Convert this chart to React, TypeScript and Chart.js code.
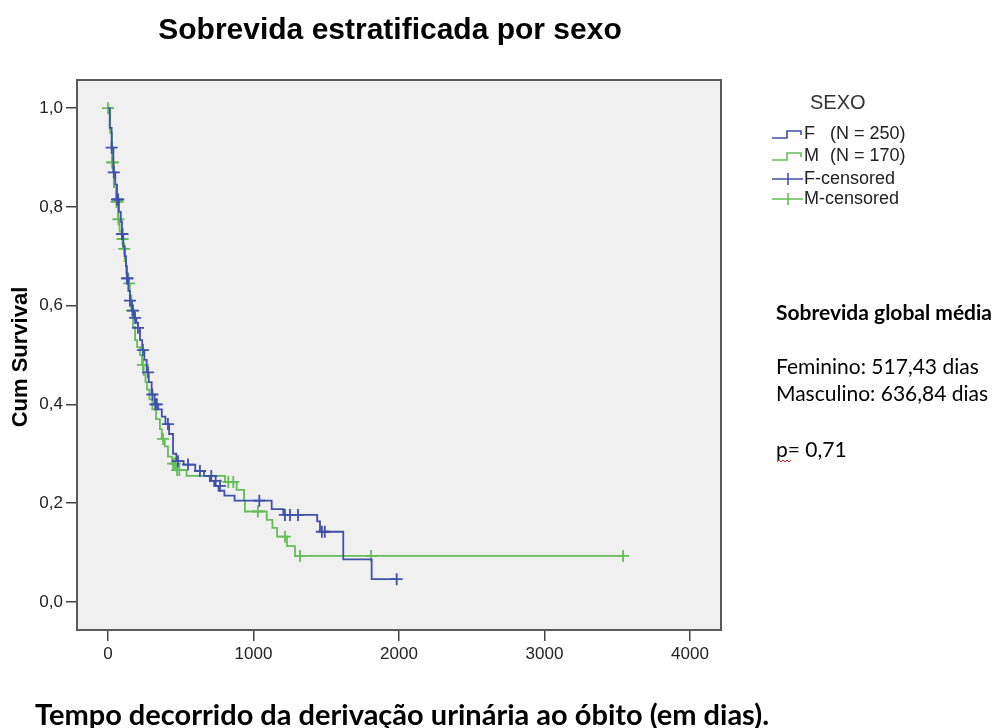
import React, { useEffect, useRef } from 'react';
import { Chart, registerables } from 'chart.js';

Chart.register(...registerables);

// Kaplan-Meier step data (time in days, cumulative survival)
const F_TIME = [0, 12, 25, 37, 50, 62, 75, 88, 96, 105, 115, 124, 130, 140, 151, 165, 180, 195, 206, 220, 235, 250, 266, 280, 300, 320, 345, 370, 395, 420, 447, 470, 520, 600, 660, 700, 730, 760, 800, 870, 1125, 1205, 1438, 1457, 1617, 1812, 1984];
const F_SURV = [1.0, 0.96, 0.92, 0.87, 0.845, 0.815, 0.79, 0.77, 0.745, 0.72, 0.70, 0.68, 0.655, 0.63, 0.61, 0.59, 0.575, 0.565, 0.555, 0.53, 0.51, 0.49, 0.465, 0.445, 0.42, 0.40, 0.39, 0.375, 0.36, 0.34, 0.30, 0.285, 0.278, 0.265, 0.255, 0.245, 0.235, 0.225, 0.215, 0.205, 0.188, 0.176, 0.163, 0.142, 0.086, 0.046, 0.046];
const F_CENS_TIME = [25, 40, 62, 70, 96, 100, 130, 135, 151, 172, 186, 206, 240, 275, 305, 325, 336, 412, 481, 550, 632, 710, 740, 770, 1040, 1216, 1251, 1306, 1470, 1490, 1984];
const F_CENS_SURV = [0.92, 0.87, 0.815, 0.815, 0.745, 0.745, 0.655, 0.655, 0.61, 0.59, 0.575, 0.555, 0.51, 0.465, 0.42, 0.40, 0.40, 0.36, 0.285, 0.278, 0.265, 0.255, 0.245, 0.235, 0.205, 0.176, 0.176, 0.176, 0.142, 0.142, 0.046];

const M_TIME = [0, 15, 28, 40, 55, 69, 80, 95, 103, 115, 125, 140, 150, 160, 172, 186, 200, 220, 234, 245, 258, 268, 285, 305, 330, 357, 370, 390, 412, 440, 470, 540, 804, 884, 935, 941, 1091, 1130, 1162, 1230, 1285, 3540];
const M_SURV = [1.0, 0.95, 0.89, 0.84, 0.81, 0.775, 0.75, 0.735, 0.715, 0.69, 0.665, 0.645, 0.62, 0.59, 0.557, 0.53, 0.516, 0.50, 0.48, 0.46, 0.445, 0.43, 0.41, 0.39, 0.37, 0.35, 0.33, 0.315, 0.294, 0.28, 0.267, 0.255, 0.243, 0.227, 0.205, 0.183, 0.166, 0.15, 0.132, 0.113, 0.093, 0.093];
const M_CENS_TIME = [0, 28, 34, 58, 66, 72, 100, 112, 145, 165, 240, 378, 447, 460, 475, 490, 827, 861, 1030, 1216, 1320, 1808, 3540];
const M_CENS_SURV = [1.0, 0.89, 0.89, 0.81, 0.81, 0.775, 0.735, 0.715, 0.645, 0.59, 0.48, 0.33, 0.28, 0.28, 0.267, 0.267, 0.243, 0.243, 0.183, 0.132, 0.093, 0.093, 0.093];

const X_TICKS = [0, 1000, 2000, 3000, 4000];
const Y_TICKS = [0, 0.2, 0.4, 0.6, 0.8, 1.0];

const LEGEND_TITLE = 'SEXO';
const LEGEND_ROWS = [
  { kind: 'step', color: 'blue', label: 'F', n: '(N = 250)' },
  { kind: 'step', color: 'green', label: 'M', n: '(N = 170)' },
  { kind: 'cens', color: 'blue', label: 'F-censored', n: '' },
  { kind: 'cens', color: 'green', label: 'M-censored', n: '' },
];

const BLUE = '#3f51a9';
const GREEN = '#64bd57';

const pts = (t: number[], s: number[]) => t.map((x, i) => ({ x, y: s[i] }));

const SANS = '"Liberation Sans", Arial, sans-serif';
const NARROW = '"Liberation Sans Narrow", "Liberation Sans", Arial, sans-serif';
const CAL = 'Lato, "Open Sans", sans-serif';

const decor = {
  id: 'decor',
  beforeDraw(chart: any) {
    const { ctx, chartArea: a } = chart;
    ctx.save();
    ctx.fillStyle = '#f0f0f0';
    ctx.fillRect(a.left, a.top, a.right - a.left, a.bottom - a.top);
    ctx.restore();
  },
  afterDraw(chart: any) {
    const { ctx, chartArea: a } = chart;
    ctx.save();
    // frame
    ctx.strokeStyle = '#5a5a5a';
    ctx.lineWidth = 2;
    ctx.strokeRect(a.left, a.top, a.right - a.left, a.bottom - a.top);

    // title
    ctx.fillStyle = '#000';
    ctx.textBaseline = 'middle';
    ctx.textAlign = 'center';
    ctx.font = `bold 30px ${SANS}`;
    ctx.fillText('Sobrevida estratificada por sexo', 390, 31);

    // y-axis title
    ctx.save();
    ctx.translate(21, 357);
    ctx.rotate(-Math.PI / 2);
    ctx.font = `bold 22px ${SANS}`;
    ctx.fillText('Cum Survival', 0, 0);
    ctx.restore();

    // legend
    ctx.textAlign = 'left';
    ctx.fillStyle = '#333';
    ctx.font = `20px ${NARROW}`;
    ctx.fillText(LEGEND_TITLE, 810, 103);
    const rowY = [134, 156, 179, 199];
    LEGEND_ROWS.forEach((r, i) => {
      const y = rowY[i];
      const col = r.color === 'blue' ? BLUE : GREEN;
      ctx.strokeStyle = col;
      ctx.lineWidth = 1.6;
      ctx.beginPath();
      if (r.kind === 'step') {
        ctx.moveTo(772, y + 4);
        ctx.lineTo(787, y + 4);
        ctx.lineTo(787, y - 3);
        ctx.lineTo(801, y - 3);
        ctx.lineTo(801, y + 1);
      } else {
        ctx.moveTo(772, y);
        ctx.lineTo(803, y);
        ctx.moveTo(788, y - 6);
        ctx.lineTo(788, y + 6);
      }
      ctx.stroke();
      ctx.fillStyle = '#222';
      ctx.font = `18px ${SANS}`;
      ctx.fillText(r.label, 804, y);
      if (r.n) ctx.fillText(r.n, 830, y);
    });

    // annotations
    ctx.fillStyle = '#000';
    ctx.font = `bold 21px ${CAL}`;
    ctx.fillText('Sobrevida global média', 776, 313);
    ctx.font = `21px ${CAL}`;
    ctx.fillText('Feminino: 517,43 dias', 776, 367);
    ctx.fillText('Masculino: 636,84 dias', 776, 394);
    ctx.fillText('p= 0,71', 776, 450);
    // spell-check squiggle under "p"
    ctx.strokeStyle = '#d22';
    ctx.lineWidth = 1;
    ctx.beginPath();
    for (let i = 0; i <= 7; i++) {
      const x = 777 + i * 2;
      const y = i % 2 === 0 ? 462 : 460;
      if (i === 0) ctx.moveTo(x, y); else ctx.lineTo(x, y);
    }
    ctx.stroke();

    // bottom caption
    ctx.fillStyle = '#000';
    ctx.font = `bold 29px ${CAL}`;
    ctx.fillText('Tempo decorrido da derivação urinária ao óbito (em dias).', 35, 716);
    ctx.restore();
  },
};

export default function App() {
  const ref = useRef<HTMLCanvasElement | null>(null);
  useEffect(() => {
    if (!ref.current) return;
    const lineDs = (label: string, data: any, color: string) => ({
      type: 'line',
      label,
      data,
      borderColor: color,
      backgroundColor: color,
      borderWidth: 1.8,
      stepped: true,
      pointRadius: 0,
      fill: false,
    });
    const censDs = (label: string, data: any, color: string) => ({
      type: 'line',
      label,
      data,
      showLine: false,
      borderColor: color,
      backgroundColor: color,
      pointStyle: 'cross',
      pointRadius: 6,
      pointBorderWidth: 1.8,
      pointHoverRadius: 6,
    });
    const chart = new Chart(ref.current, {
      type: 'line',
      data: {
        datasets: [
          censDs('F-censored', pts(F_CENS_TIME, F_CENS_SURV), BLUE),
          lineDs('F', pts(F_TIME, F_SURV), BLUE),
          censDs('M-censored', pts(M_CENS_TIME, M_CENS_SURV), GREEN),
          lineDs('M', pts(M_TIME, M_SURV), GREEN),
        ] as any,
      },
      options: {
        animation: false,
        responsive: false,
        devicePixelRatio: 1,
        layout: { padding: { top: 80, right: 279, left: 0, bottom: 0 } },
        plugins: { legend: { display: false }, tooltip: { enabled: false }, title: { display: false } },
        scales: {
          x: {
            type: 'linear',
            min: -213,
            max: 4213,
            border: { display: false },
            grid: { drawOnChartArea: false, drawTicks: true, tickLength: 11, tickColor: '#444', lineWidth: 1.5 },
            ticks: { color: '#222', font: { family: NARROW, size: 17 }, padding: 3, maxRotation: 0, callback: (v: any) => String(v) },
            afterBuildTicks: (s: any) => { s.ticks = X_TICKS.map((v) => ({ value: v })); },
            afterFit: (s: any) => { s.height = 98; },
          },
          y: {
            type: 'linear',
            min: -0.057,
            max: 1.057,
            border: { display: false },
            grid: { drawOnChartArea: false, drawTicks: true, tickLength: 11, tickColor: '#444', lineWidth: 1.5 },
            ticks: { color: '#222', font: { family: NARROW, size: 17 }, padding: 3, callback: (v: any) => Number(v).toFixed(1).replace('.', ',') },
            afterBuildTicks: (s: any) => { s.ticks = Y_TICKS.map((v) => ({ value: v })); },
            afterFit: (s: any) => { s.width = 77; },
          },
        },
      },
      plugins: [decor],
    });
    return () => chart.destroy();
  }, []);
  return (
    <div style={{ position: 'absolute', left: 0, top: 0, width: 1000, height: 728, background: '#fff' }}>
      <canvas ref={ref} width={1000} height={728} />
    </div>
  );
}
